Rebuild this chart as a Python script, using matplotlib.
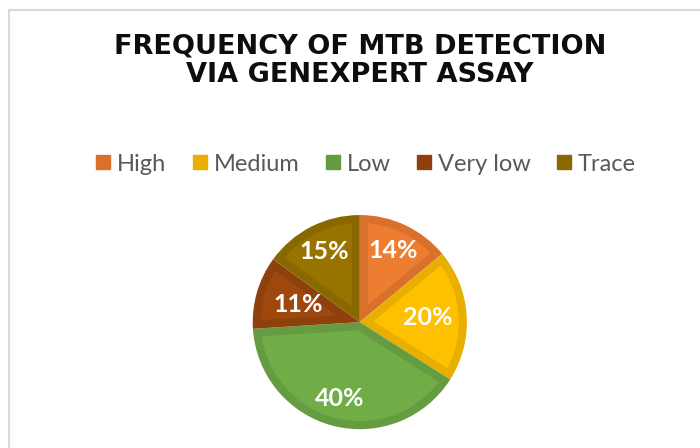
import numpy as np
import matplotlib.pyplot as plt
from matplotlib.lines import Line2D
from matplotlib.patches import Polygon

# Data
categories = ['High', 'Medium', 'Low', 'Very low', 'Trace']
shares = [14, 20, 40, 11, 15]

face_colors = ['#ED7D31', '#FFC000', '#70AD47', '#9E480E', '#997300']
edge_colors = ['#D9712C', '#E8AF00', '#659C41', '#8E410D', '#8A6800']
# radial position of each percentage label (fraction of radius)
label_r = [0.74, 0.64, 0.74, 0.60, 0.74]

plt.rcParams['font.family'] = ['Lato', 'DejaVu Sans']

W, H = 700, 448
fig = plt.figure(figsize=(7, 4.48), dpi=100)
fig.patch.set_facecolor('white')

# Chart frame (light gray border, cropped at right/bottom)
fig.add_artist(Line2D([9 / W, 9 / W], [0, 1 - 10 / H], color='#D9D9D9', lw=1.5))
fig.add_artist(Line2D([9 / W, 1], [1 - 10 / H, 1 - 10 / H], color='#D9D9D9', lw=1.5))

# Title
fig.text(360 / W, 1 - 61 / H, 'FREQUENCY OF MTB DETECTION\nVIA GENEXPERT ASSAY',
         ha='center', va='center', fontsize=19.5, fontweight='bold',
         family='DejaVu Sans', color='#0D0D0D', linespacing=1.15)

# Pie: outer wedges in the darker border colour
ax = fig.add_axes([0.361, 0.042, 0.306, 0.478])
wedges, texts = ax.pie(shares, colors=edge_colors, startangle=90,
                       counterclock=False, radius=1,
                       labels=[f'{v}%' for v in shares], labeldistance=1.0,
                       wedgeprops=dict(linewidth=0),
                       textprops=dict(color='white', fontsize=18, fontweight='bold',
                                      zorder=5))

# inset lighter wedge inside each slice (Excel style inner border)
d = 0.075
for w, fc in zip(wedges, face_colors):
    t1, t2 = np.radians(w.theta1), np.radians(w.theta2)
    R = w.r - d
    half = (t2 - t1) / 2
    apex_r = d / np.sin(half)
    mid = (t1 + t2) / 2
    delta = np.arcsin(d / R)
    arc = np.linspace(t1 + delta, t2 - delta, 80)
    pts = [(apex_r * np.cos(mid), apex_r * np.sin(mid))]
    pts += [(R * np.cos(a), R * np.sin(a)) for a in arc]
    ax.add_patch(Polygon(pts, closed=True, facecolor=fc, edgecolor='none', zorder=2))

for t, f in zip(texts, label_r):
    x, y = t.get_position()
    t.set_position((x * f, y * f))
    t.set_ha('center')
    t.set_va('center')
ax.set_xlim(-1, 1)
ax.set_ylim(-1, 1)
ax.set_aspect('equal')
ax.axis('off')

# Legend
handles = [Line2D([0], [0], marker='s', linestyle='none', markersize=10,
                  markerfacecolor=c, markeredgecolor=c) for c in edge_colors]
fig.legend(handles, categories, loc='center', bbox_to_anchor=(366 / W, 1 - 164 / H),
           ncol=5, frameon=False, fontsize=17, labelcolor='#595959',
           handlelength=0.6, handletextpad=0.3, columnspacing=1.1)

plt.savefig('out.png', dpi=100, facecolor='white')
